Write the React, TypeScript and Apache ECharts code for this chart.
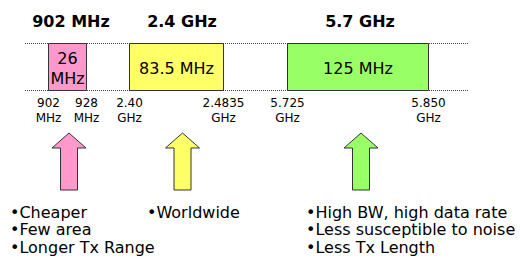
import React, { useEffect, useRef } from "react";
import * as echarts from "echarts";

const bandTitles = ["902 MHz", "2.4 GHz", "5.7 GHz"];
const bandStartMHz = [902, 2400, 5725];
const bandEndMHz = [928, 2483.5, 5850];
const bandWidthLabels = ["26\nMHz", "83.5 MHz", "125 MHz"];
const edgeLabels = [
  ["902\nMHz", "928\nMHz"],
  ["2.40\nGHz", "2.4835\nGHz"],
  ["5.725\nGHz", "5.850\nGHz"],
];
const benefits = [
  ["•Cheaper", "•Few area", "•Longer Tx Range"],
  ["•Worldwide"],
  ["•High BW, high data rate", "•Less susceptible to noise", "•Less Tx Length"],
];

const FONT = "DejaVu Sans";
const fills = ["#ff99cc", "#ffff66", "#99ff66"];
const gridLeft = [48.5, 129.5, 287.5];
const titleX = [71, 182, 360];
const arrowX = [69, 182.5, 361];
const benefitX = [10, 147, 306];

function arrowPoints(cx: number) {
  const tip = 133, base = 148, bottom = 190, hw = 17, sw = 8.5;
  return [
    [cx, tip],
    [cx + hw, base],
    [cx + sw, base],
    [cx + sw, bottom],
    [cx - sw, bottom],
    [cx - sw, base],
    [cx - hw, base],
  ];
}

export default function App() {
  const ref = useRef<HTMLDivElement>(null);
  useEffect(() => {
    if (!ref.current) return;
    const chart = echarts.init(ref.current, null, { renderer: "svg" });
    const pxPerMHz = [38 / 26, 94 / 83.5, 141 / 125];
    const graphics: any[] = [];
    [43.5, 90.5].forEach((y) =>
      graphics.push({
        type: "line",
        z: 0,
        shape: { x1: 25, y1: y, x2: 468, y2: y },
        style: { stroke: "#444", lineWidth: 1, lineDash: [1, 1] },
      })
    );
    bandTitles.forEach((t, i) =>
      graphics.push({
        type: "text",
        x: titleX[i],
        y: 21,
        style: {
          text: t,
          align: "center",
          verticalAlign: "middle",
          font: `bold 16px "${FONT}"`,
          fill: "#000",
        },
      })
    );
    arrowX.forEach((x, i) =>
      graphics.push({
        type: "polygon",
        shape: { points: arrowPoints(x) },
        style: { fill: fills[i], stroke: "#333", lineWidth: 1 },
      })
    );
    benefits.forEach((lines, i) =>
      graphics.push({
        type: "text",
        x: benefitX[i],
        y: 203.5,
        style: {
          text: lines.join("\n"),
          align: "left",
          verticalAlign: "top",
          font: `16px "${FONT}"`,
          lineHeight: 17.5,
          fill: "#000",
        },
      })
    );

    const option: any = {
      animation: false,
      backgroundColor: "#fff",
      grid: bandStartMHz.map((s, i) => ({
        left: gridLeft[i],
        top: 43.5,
        height: 47,
        width: (bandEndMHz[i] - s) * pxPerMHz[i],
      })),
      xAxis: bandStartMHz.map((s, i) => ({
        gridIndex: i,
        type: "value",
        min: s,
        max: bandEndMHz[i],
        axisLine: { show: false },
        axisTick: { show: false },
        splitLine: { show: false },
        axisLabel: {
          customValues: [s, bandEndMHz[i]],
          showMinLabel: true,
          showMaxLabel: true,
          formatter: (v: number) =>
            Math.abs(v - s) < 1e-6 ? edgeLabels[i][0] : edgeLabels[i][1],
          fontSize: 12,
          lineHeight: 15,
          fontFamily: FONT,
          color: "#000",
          margin: 5,
        },
      })),
      yAxis: bandStartMHz.map((_, i) => ({
        gridIndex: i,
        type: "value",
        min: 0,
        max: 1,
        show: false,
      })),
      series: bandStartMHz.map((s, i) => ({
        type: "custom",
        xAxisIndex: i,
        yAxisIndex: i,
        z: 3,
        data: [[s, bandEndMHz[i]]],
        renderItem: (_p: any, api: any) => {
          const a = api.coord([api.value(0), 1]);
          const b = api.coord([api.value(1), 0]);
          return {
            type: "group",
            children: [
              {
                type: "rect",
                shape: { x: a[0], y: a[1], width: b[0] - a[0], height: b[1] - a[1] },
                style: { fill: fills[i], stroke: "#333", lineWidth: 1 },
              },
              {
                type: "text",
                style: {
                  text: bandWidthLabels[i],
                  x: (a[0] + b[0]) / 2,
                  y: (a[1] + b[1]) / 2 + 1,
                  align: "center",
                  verticalAlign: "middle",
                  font: `16px "${FONT}"`,
                  lineHeight: 20,
                  fill: "#000",
                },
              },
            ],
          };
        },
      })),
      graphic: graphics,
    };
    chart.setOption(option);
    return () => chart.dispose();
  }, []);
  return (
    <div
      ref={ref}
      style={{ position: "fixed", left: 0, top: 0, width: 520, height: 264, background: "#fff" }}
    />
  );
}
